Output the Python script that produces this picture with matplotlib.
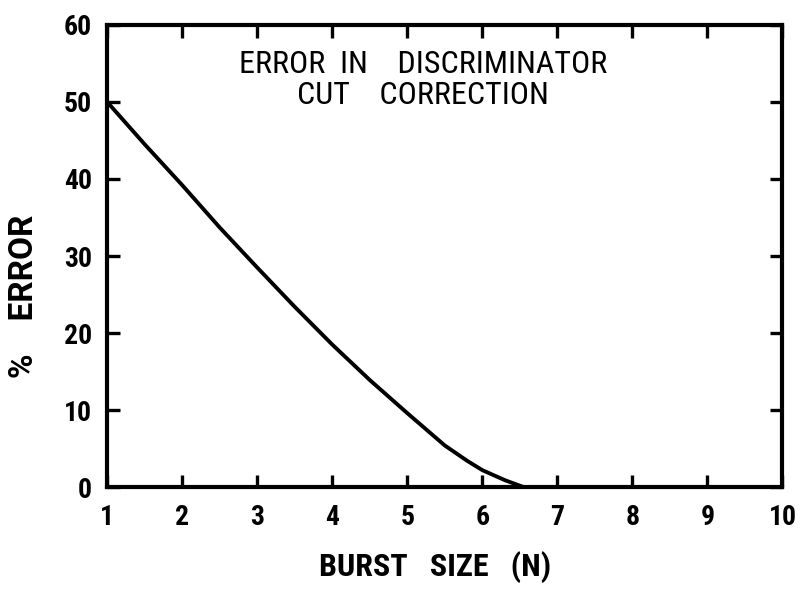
import matplotlib.pyplot as plt
import numpy as np

plt.rcParams['font.family'] = ['Roboto Condensed', 'Liberation Sans', 'DejaVu Sans']

# error curve read along burst size
burst_size = [1.0, 1.5, 2.0, 2.5, 3.0, 3.5, 4.0, 4.5, 5.0, 5.5, 5.8, 6.0, 6.3, 6.55]
pct_error = [50.0, 44.5, 39.2, 33.7, 28.5, 23.4, 18.5, 13.9, 9.6, 5.4, 3.4, 2.2, 0.9, 0.0]

x_ticks = [1, 2, 3, 4, 5, 6, 7, 8, 9, 10]
y_ticks = [0, 10, 20, 30, 40, 50, 60]

fig = plt.figure(figsize=(8, 5.94), dpi=100)
ax = fig.add_axes([0.134, 0.180, 0.844, 0.778])

ax.plot(burst_size, pct_error, color='black', linewidth=2.8, solid_capstyle='round')

ax.set_xlim(1, 10)
ax.set_ylim(0, 60)
ax.set_xticks(x_ticks)
ax.set_yticks(y_ticks)

for s in ax.spines.values():
    s.set_linewidth(3)

ax.tick_params(direction='in', length=9, width=2.4, top=True, right=True,
               labelsize=20)
ax.tick_params(axis='x', pad=12)
ax.tick_params(axis='y', pad=11)
for lbl in ax.get_xticklabels() + ax.get_yticklabels():
    lbl.set_fontweight('bold')

ax.set_xlabel('BURST   SIZE   (N)', fontsize=23, fontweight='bold')
ax.xaxis.set_label_coords(0.485, -0.138)
ax.set_ylabel('%    ERROR', fontsize=24, fontweight='bold',
              family=['Roboto', 'DejaVu Sans'])
ax.yaxis.set_label_coords(-0.100, 0.412)

ax.text(0.468, 0.945, 'ERROR  IN    DISCRIMINATOR\nCUT    CORRECTION',
        transform=ax.transAxes, ha='center', va='top', fontsize=23,
        linespacing=1.05)

fig.savefig('out.png', dpi=100)
